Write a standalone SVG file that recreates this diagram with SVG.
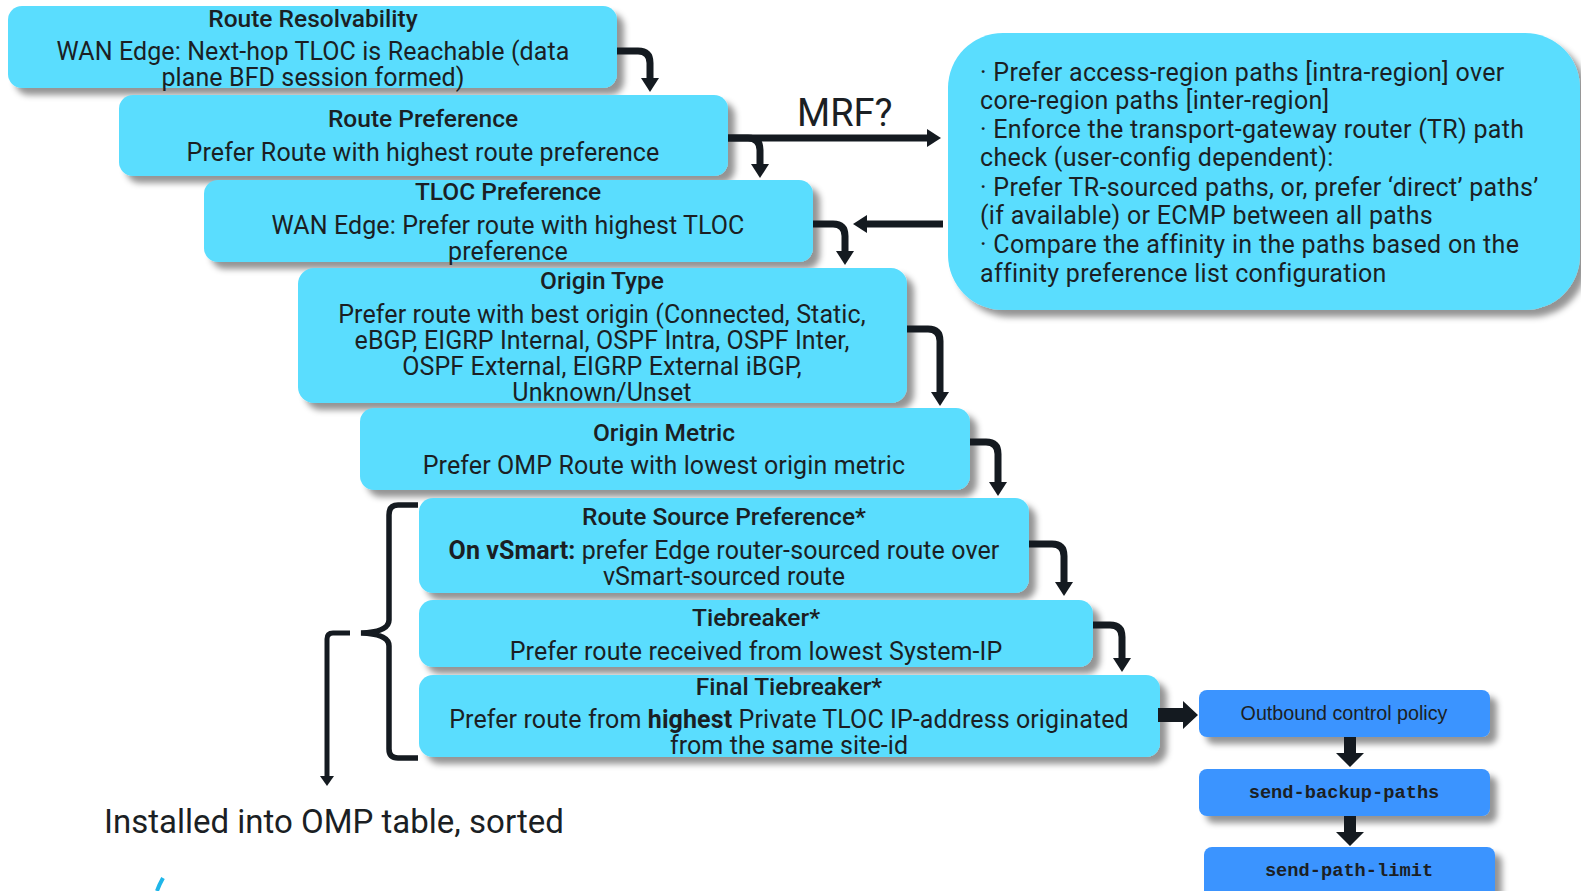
<svg xmlns="http://www.w3.org/2000/svg" width="1581" height="891" viewBox="0 0 1581 891">
<defs>
<filter id="sh" x="-10%" y="-20%" width="130%" height="160%">
<feDropShadow dx="7" dy="7" stdDeviation="3" flood-color="#000" flood-opacity="0.42"/>
</filter>
<marker id="ah" markerUnits="userSpaceOnUse" markerWidth="24" markerHeight="24" viewBox="0 0 24 24" refX="6" refY="12" orient="auto">
<path d="M0,3 L14,12 L0,21 z" fill="#141a20"/>
</marker>
<marker id="ah2" markerUnits="userSpaceOnUse" markerWidth="20" markerHeight="20" viewBox="0 0 20 20" refX="3" refY="10" orient="auto">
<path d="M0,3 L10,10 L0,17 z" fill="#141a20"/>
</marker>
</defs>
<style>
.box{fill:#5addfe;filter:url(#sh)}
.bbox{fill:#3a94ff;filter:url(#sh)}
.t{font-family:Roboto,"Liberation Sans",sans-serif;font-size:25px;letter-spacing:0.1px;fill:#1b1f24;text-anchor:middle}
.h{font-weight:500;font-size:24.5px;letter-spacing:0}
.r{font-family:Roboto,"Liberation Sans",sans-serif;font-size:25px;letter-spacing:0.3px;fill:#1b1f24}
.c{fill:none;stroke:#141a20;stroke-width:7;marker-end:url(#ah)}
.mono{font-family:"Liberation Mono",monospace;font-weight:700;font-size:18.7px;fill:#1b1f24;text-anchor:middle}
</style>

<g id="route-resolvability">
<rect class="box" x="8" y="6" width="609" height="82" rx="14"/>
<text class="t h" x="313" y="27">Route Resolvability</text>
<text class="t" x="313" y="60">WAN Edge: Next-hop TLOC is Reachable (data</text>
<text class="t" x="313" y="86">plane BFD session formed)</text>
</g>
<g id="route-preference">
<rect class="box" x="119" y="95" width="609" height="81" rx="14"/>
<text class="t h" x="423" y="127">Route Preference</text>
<text class="t" x="423" y="161">Prefer Route with highest route preference</text>
</g>
<g id="tloc-preference">
<rect class="box" x="204" y="180" width="609" height="82" rx="14"/>
<text class="t h" x="508" y="200">TLOC Preference</text>
<text class="t" x="508" y="234">WAN Edge: Prefer route with highest TLOC</text>
<text class="t" x="508" y="260">preference</text>
</g>
<g id="origin-type">
<rect class="box" x="298" y="268" width="609" height="135" rx="16"/>
<text class="t h" x="602" y="289">Origin Type</text>
<text class="t" x="602" y="323">Prefer route with best origin (Connected, Static,</text>
<text class="t" x="602" y="349">eBGP, EIGRP Internal, OSPF Intra, OSPF Inter,</text>
<text class="t" x="602" y="375">OSPF External, EIGRP External iBGP,</text>
<text class="t" x="602" y="401">Unknown/Unset</text>
</g>
<g id="origin-metric">
<rect class="box" x="360" y="408" width="610" height="82" rx="14"/>
<text class="t h" x="664" y="441">Origin Metric</text>
<text class="t" x="664" y="474">Prefer OMP Route with lowest origin metric</text>
</g>
<g id="route-source-preference">
<rect class="box" x="419" y="498" width="610" height="95" rx="14"/>
<text class="t h" x="724" y="525">Route Source Preference*</text>
<text class="t" x="724" y="559"><tspan font-weight="700">On vSmart:</tspan> prefer Edge router-sourced route over</text>
<text class="t" x="724" y="585">vSmart-sourced route</text>
</g>
<g id="tiebreaker">
<rect class="box" x="419" y="600" width="674" height="67" rx="14"/>
<text class="t h" x="756" y="626">Tiebreaker*</text>
<text class="t" x="756" y="660">Prefer route received from lowest System-IP</text>
</g>
<g id="final-tiebreaker">
<rect class="box" x="419" y="675" width="741" height="82" rx="14"/>
<text class="t h" x="789" y="695">Final Tiebreaker*</text>
<text class="t" x="789" y="728">Prefer route from <tspan font-weight="700">highest</tspan> Private TLOC IP-address originated</text>
<text class="t" x="789" y="754">from the same site-id</text>
</g>
<g id="mrf-box">
<rect class="box" x="948" y="33" width="632" height="277" rx="55"/>
<text class="r" x="980" y="81">· Prefer access-region paths [intra-region] over</text>
<text class="r" x="980" y="109">core-region paths [inter-region]</text>
<text class="r" x="980" y="138">· Enforce the transport-gateway router (TR) path</text>
<text class="r" x="980" y="166">check (user-config dependent):</text>
<text class="r" x="980" y="196">· Prefer TR-sourced paths, or, prefer ‘direct’ paths’</text>
<text class="r" x="980" y="224">(if available) or ECMP between all paths</text>
<text class="r" x="980" y="253">· Compare the affinity in the paths based on the</text>
<text class="r" x="980" y="282">affinity preference list configuration</text>
</g>
<g id="outbound-control-policy">
<rect class="bbox" x="1199" y="690" width="291" height="47" rx="8"/>
<text x="1344" y="720" style="font-family:'Liberation Sans',Arial,sans-serif;font-size:19.7px;fill:#1b1f24;text-anchor:middle">Outbound control policy</text>
</g>
<g id="send-backup-paths">
<rect class="bbox" x="1199" y="769" width="291" height="47" rx="8"/>
<text class="mono" x="1344" y="798">send-backup-paths</text>
</g>
<g id="send-path-limit">
<rect class="bbox" x="1204" y="847" width="291" height="52" rx="8"/>
<text class="mono" x="1349" y="876">send-path-limit</text>
</g>
<g id="installed">
<text x="104" y="833" style="font-family:Roboto,'Liberation Sans',sans-serif;font-size:33px;fill:#1b1f24">Installed into OMP table, sorted</text>
</g>
<path d="M163,878 Q159,885 157,891" fill="none" stroke="#1fb6e9" stroke-width="4"/>

<g id="connectors">
<path class="c" d="M617,51 H638 Q650,51 650,63 V84"/>
<path class="c" d="M728,138 H748 Q760,138 760,150 V170"/>
<path class="c" d="M728,138 H933"/>
<text x="797" y="126" style="font-family:Roboto,'Liberation Sans',sans-serif;font-size:38px;fill:#1b1f24">MRF?</text>
<path class="c" d="M943,224 H861"/>
<path class="c" d="M813,224 H833 Q845,224 845,236 V257"/>
<path class="c" d="M907,329 H928 Q940,329 940,341 V398"/>
<path class="c" d="M970,442 H986 Q998,442 998,454 V488"/>
<path class="c" d="M1029,544 H1052 Q1064,544 1064,556 V588"/>
<path class="c" d="M1093,625 H1110 Q1122,625 1122,637 V664"/>
<path d="M1158,708 H1183 V701 L1198,715 L1183,729 V722 H1158 z" fill="#141a20"/>
<path d="M1344,737 V753 H1336 L1350,767 L1364,753 H1356 V737 z" fill="#141a20"/>
<path d="M1344,816 V832 H1336 L1350,846 L1364,832 H1356 V816 z" fill="#141a20"/>
<path d="M418,505 H398 Q389,505 389,515 V620 Q389,632 361,633 Q389,634 389,646 V749 Q389,758 398,758 H418" fill="none" stroke="#141a20" stroke-width="5.5"/>
<path d="M350,633 H333 Q327,633 327,639 V779" fill="none" stroke="#141a20" stroke-width="5" marker-end="url(#ah2)"/>
</g>
</svg>
